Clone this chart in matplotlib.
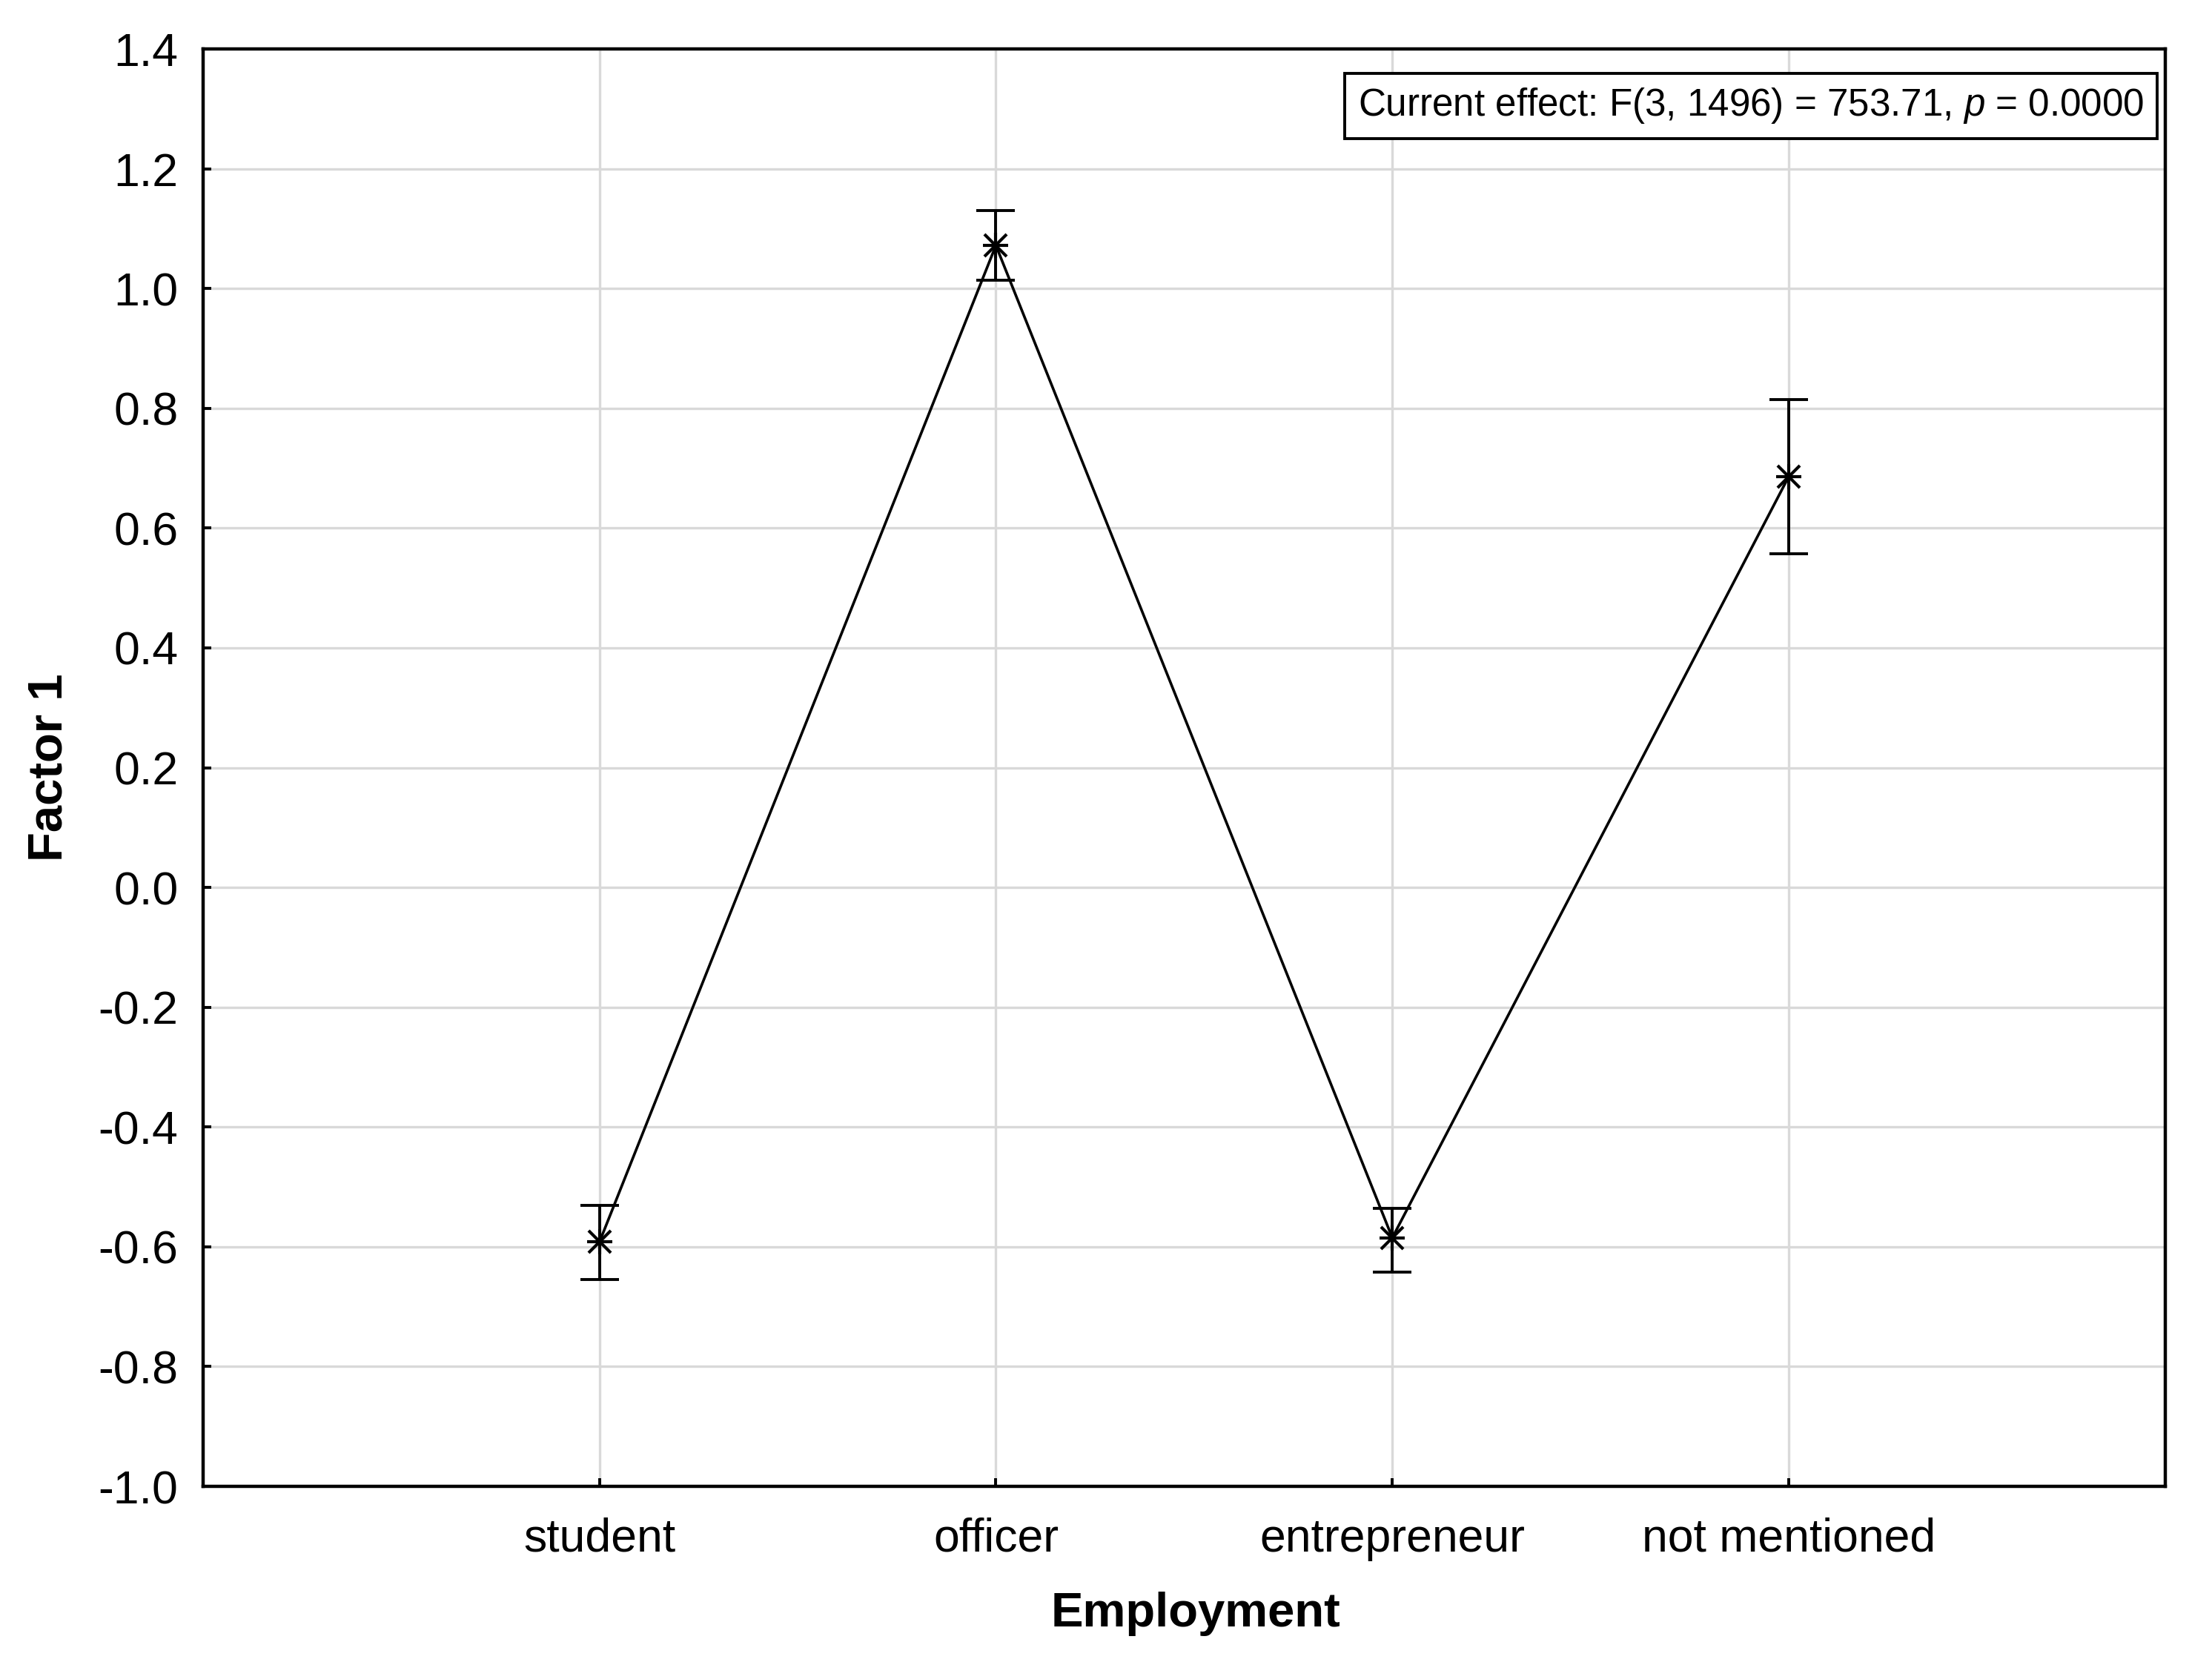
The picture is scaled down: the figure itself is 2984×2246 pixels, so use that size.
import numpy as np
import matplotlib.pyplot as plt

plt.rcParams['font.family'] = ['Liberation Sans', 'DejaVu Sans']
plt.rcParams['mathtext.fontset'] = 'custom'
plt.rcParams['mathtext.it'] = 'Liberation Sans:italic'
plt.rcParams['mathtext.rm'] = 'Liberation Sans'

# group means and 95% CI bounds
groups = ["student", "officer", "entrepreneur", "not mentioned"]
means = [-0.592, 1.072, -0.585, 0.686]
lower = [-0.655, 1.014, -0.642, 0.557]
upper = [-0.531, 1.130, -0.536, 0.815]
yticks = [-1.0, -0.8, -0.6, -0.4, -0.2, 0.0, 0.2, 0.4, 0.6, 0.8, 1.0, 1.2, 1.4]
effect_text = "Current effect: F(3, 1496) = 753.71, $\\it{p}$ = 0.0000"

x = np.arange(1, len(groups) + 1)
m = np.array(means)
yerr = [m - np.array(lower), np.array(upper) - m]

fig = plt.figure(figsize=(14.92, 11.23), dpi=200)
ax = fig.add_axes([0.0918, 0.1073, 0.8871, 0.8633])

ax.grid(True, color="#d9d9d9", linewidth=1.2)
ax.set_axisbelow(True)

ax.errorbar(x, m, yerr=yerr, fmt="none", ecolor="black", elinewidth=1.4,
            capsize=9.5, capthick=1.4, zorder=3)
ax.plot(x, m, color="black", linewidth=1.3, zorder=4)
ax.plot(x, m, linestyle="none", marker="+", markersize=12,
        markeredgewidth=1.5, color="black", zorder=5)
ax.plot(x, m, linestyle="none", marker="x", markersize=10.5,
        markeredgewidth=1.5, color="black", zorder=5)

ax.set_xlim(0, 4.95)
ax.set_ylim(-1.0, 1.4)
ax.set_xticks(x)
ax.set_xticklabels(groups)
ax.set_yticks(yticks)
ax.set_yticklabels([f"{v:.1f}" for v in yticks])
ax.tick_params(direction="in", length=4, width=1.4, labelsize=22.5, pad=12)
ax.tick_params(axis="x", pad=15)

for s in ax.spines.values():
    s.set_linewidth(1.6)

ax.set_xlabel("Employment", fontsize=23.5, fontweight="bold", labelpad=17)
ax.xaxis.set_label_coords(0.506, -0.073)
ax.set_ylabel("Factor 1", fontsize=23.5, fontweight="bold", labelpad=13)

ax.text(0.989, 0.974, effect_text, transform=ax.transAxes, ha="right", va="top",
        fontsize=18.4,
        bbox=dict(boxstyle="square,pad=0.35", facecolor="white",
                  edgecolor="black", linewidth=1.4))

fig.savefig("out.png", dpi=200)
